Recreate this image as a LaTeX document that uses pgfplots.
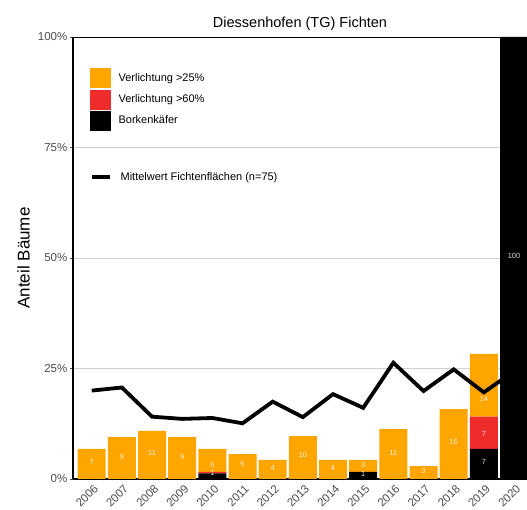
\documentclass[border=0pt]{standalone}
\usepackage{fontspec}
\setmainfont{Liberation Sans}
\usepackage{pgfplots}
\usepackage{pgfplotstable}
\pgfplotsset{compat=1.18}

\definecolor{verl25}{HTML}{FFA500}
\definecolor{verl60}{HTML}{EE2C2C}
\definecolor{tickgrey}{HTML}{4D4D4D}
\definecolor{gridgrey}{HTML}{D0D0D0}

% Anteil Baeume in %, je Jahr (0 = 2006)
\pgfplotstableread{
x  kaefer v60 v25
0  0    0    6.8
1  0    0    9.5
2  0    0    10.9
3  0    0    9.5
4  1.3  0.3  5.2
5  0    0    5.6
6  0    0    4.3
7  0    0    9.7
8  0    0    4.3
9  1.6  0    2.7
10 0    0    11.3
11 0    0    2.9
12 0    0    15.8
13 6.8  7.3  14.2
14 100  0    0
}\bars

\pgfplotstableread{
x  y
0  20.0
1  20.7
2  14.1
3  13.6
4  13.8
5  12.6
6  17.5
7  14.0
8  19.2
9  16.1
10 26.3
11 19.9
12 24.8
13 19.6
14 24.4
}\mittel

\pgfplotstableread{
x  y    lab
0  3.8  7
1  5.0  9
2  5.8  11
3  5.0  9
4  3.2  5
4  1.3  1
5  3.3  5
6  2.6  4
7  5.4  10
8  2.6  4
9  3.1  3
9  1.1  1
10 5.9  11
11 1.9  3
12 8.3  16
13 18.0 14
13 10.1 7
13 3.8  7
14 50.5 100
}\labels

\pgfplotsset{
  base/.style={
    scale only axis, width=454pt, height=442pt,
    xmin=-0.62, xmax=14.43, ymin=0, ymax=100,
    at={(73pt,31pt)}, anchor=south west,
  },
}

\begin{document}
\begin{tikzpicture}
\useasboundingbox (0,0) rectangle (527pt,510pt);

\begin{axis}[base,
  ybar stacked, bar width=0.93,
  axis lines*=left, axis line style={-, black, line width=1.1pt},
  tick align=outside, major tick length=3.5pt,
  xtick={0,...,14},
  xticklabels={2006,2007,2008,2009,2010,2011,2012,2013,2014,2015,2016,2017,2018,2019,2020},
  xtick style={draw=none},
  ytick={0,25,50,75,100},
  yticklabels={0\%,25\%,50\%,75\%,100\%},
  ytick style={tickgrey, line width=0.8pt},
  ymajorgrids, grid style={gridgrey, line width=0.8pt},
  extra y ticks={100}, extra y tick labels={},
  extra y tick style={grid=major, major grid style={black, line width=0.9pt}, tick style={draw=none}},
  tick label style={font=\fontsize{11.5}{13}\selectfont, text=tickgrey},
  xticklabel style={rotate=45, anchor=north east, inner sep=0pt, yshift=-2pt},
  yticklabel style={inner sep=0pt, xshift=-2pt},
  title={Diessenhofen (TG) Fichten},
  title style={at={(0.5,1)}, anchor=base, yshift=3.5pt, font=\fontsize{14.5}{17}\selectfont},
  ylabel={Anteil Bäume},
  ylabel style={at={(axis description cs:-0.0958,0.5)}, anchor=base, font=\fontsize{17}{20}\selectfont},
]
\addplot[fill=black, draw=none] table[x=x, y=kaefer] {\bars};
\addplot[fill=verl60, draw=none] table[x=x, y=v60] {\bars};
\addplot[fill=verl25, draw=none] table[x=x, y=v25] {\bars};
\end{axis}

\begin{axis}[base, hide axis,
  legend style={at={(0.03744,0.6833)}, anchor=west, draw=none, fill=none,
    inner sep=0pt, column sep=8pt,
    nodes={inner sep=0pt, font=\fontsize{11}{13}\selectfont}},
  legend cell align=left,
  legend image code/.code={\draw[#1, line width=4.4pt] (0pt,0pt) -- (18pt,0pt);},
]
\addplot[black, line width=3.8pt] table[x=x, y=y] {\mittel};
\addlegendentry{Mittelwert Fichtenflächen (n=75)}
\addplot[forget plot, only marks, mark=*, mark size=0pt, mark options={draw=none, fill=none},
  nodes near coords, point meta=explicit symbolic,
  every node near coord/.append style={anchor=center, text=white, text opacity=0.85,
    font=\fontsize{7.4}{8}\selectfont}]
  table[x=x, y=y, meta=lab] {\labels};
\end{axis}

\begin{axis}[base, hide axis,
  legend style={at={(0.03744,0.9299)}, anchor=north west, draw=none, fill=none,
    inner sep=0pt, column sep=8pt, row sep=2pt,
    nodes={inner sep=0pt, font=\fontsize{11}{13}\selectfont}},
  legend cell align=left,
]
\addlegendimage{legend image code/.code={\fill[verl25] (0pt,-9.5pt) rectangle (20pt,9.5pt);}}
\addlegendentry{Verlichtung >25\%}
\addlegendimage{legend image code/.code={\fill[verl60] (0pt,-9.5pt) rectangle (20pt,9.5pt);}}
\addlegendentry{Verlichtung >60\%}
\addlegendimage{legend image code/.code={\fill[black] (0pt,-9.5pt) rectangle (20pt,9.5pt);}}
\addlegendentry{Borkenkäfer}
\end{axis}
\end{tikzpicture}
\end{document}
